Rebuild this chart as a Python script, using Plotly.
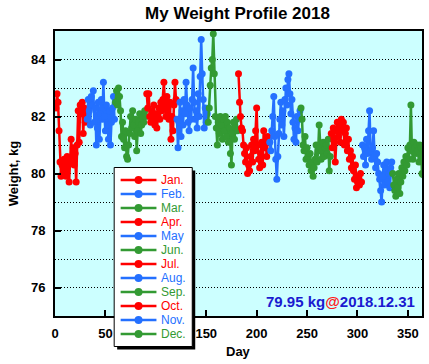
import plotly.graph_objects as go

# ---------------- data ----------------
months = ["Jan.", "Feb.", "Mar.", "Apr.", "May", "Jun.",
          "Jul.", "Aug.", "Sep.", "Oct.", "Nov.", "Dec."]
series_colors = ["#ff0000", "#2470ff", "#339a33"] * 4

jan = [82.3, 82.8, 82.5, 81.5, 80.4, 79.9, 80.3, 80.0, 80.5, 80.2, 79.9, 80.6, 80.3, 79.7, 80.4, 81.2,
       80.6, 80.9, 80.3, 80.7, 79.7, 81.0, 82.2, 81.1, 82.4, 82.1, 82.5, 81.4, 82.3, 81.8, 82.1]
feb = [81.9, 82.6, 82.2, 81.7, 82.7, 82.4, 82.9, 81.8, 82.3, 81.0, 81.6, 82.5, 81.2, 82.1, 82.6, 81.9,
       83.2, 82.0, 81.5, 82.4, 81.7, 81.2, 82.2, 81.0, 81.8, 82.3, 82.7, 81.9]
mar = [82.5, 82.9, 82.4, 83.0, 82.7, 82.2, 81.3, 81.8, 81.2, 80.9, 81.5, 80.6, 80.5, 81.0, 81.4, 82.0,
       81.6, 82.2, 81.7, 81.3, 81.9, 80.8, 81.5, 81.8, 82.1, 81.4, 81.7, 82.0, 81.8, 82.2, 82.0]
apr = [82.8, 82.3, 82.8, 82.0, 81.8, 82.2, 81.9, 82.4, 81.7, 82.1, 81.6, 82.0, 82.3, 81.9, 82.5, 82.2,
       82.6, 83.2, 82.4, 82.0, 82.7, 82.3, 81.9, 82.5, 81.2, 82.0, 81.5, 82.4, 83.2, 82.6]
may = [81.9, 80.9, 81.8, 82.5, 81.3, 82.2, 81.7, 82.6, 82.1, 83.2, 82.4, 81.8, 81.5, 82.3, 81.9, 82.6,
       83.7, 82.5, 81.9, 82.2, 81.6, 82.8, 82.0, 83.4, 84.7, 83.5, 82.6, 81.6, 82.3, 81.8, 82.1]
jun = [81.8, 82.3, 83.1, 83.7, 84.0, 84.9, 83.5, 82.0, 81.6, 81.0, 81.8, 81.4, 82.0, 81.7, 81.2, 81.9,
       81.5, 82.0, 81.3, 81.8, 81.1, 81.6, 80.7, 80.3, 81.4, 81.8, 81.2, 81.6, 81.9, 81.5]
jul = [83.5, 82.5, 82.0, 81.6, 81.5, 81.0, 80.7, 80.4, 80.9, 80.0, 80.3, 80.1, 80.6, 81.0, 80.4, 81.2,
       80.8, 81.5, 82.3, 81.0, 80.5, 80.2, 80.7, 81.1, 80.3, 81.5, 80.9, 81.1, 80.6, 81.3, 81.1]
aug = [81.1, 80.8, 81.5, 82.0, 82.7, 81.3, 80.5, 79.8, 80.6, 81.4, 81.9, 82.5, 81.7, 82.2, 81.3, 82.6,
       83.0, 82.4, 83.3, 83.5, 82.8, 82.1, 82.6, 81.8, 81.2, 81.6, 81.1, 82.0, 81.5, 81.9, 82.2]
sep = [82.3, 81.9, 81.0, 80.8, 81.3, 80.5, 80.9, 80.6, 80.3, 80.7, 80.1, 80.4, 79.9, 80.2, 80.5, 81.0,
       80.4, 80.8, 81.7, 80.9, 80.5, 80.8, 81.1, 80.6, 80.9, 81.0, 80.7, 81.2, 80.1, 80.6]
oct_ = [81.4, 80.9, 81.6, 81.2, 80.4, 81.5, 81.8, 81.3, 81.7, 81.1, 81.9, 81.5, 81.8, 81.0, 81.4, 81.6,
        80.8, 81.2, 80.5, 80.8, 80.2, 80.6, 80.1, 79.8, 80.3, 79.5, 79.7, 79.9, 79.6, 80.0, 79.7]
nov = [81.0, 80.6, 80.9, 80.3, 81.2, 80.7, 81.5, 82.2, 80.8, 80.5, 80.9, 81.5, 80.6, 80.2, 80.7, 80.4,
       80.0, 79.8, 79.4, 79.0, 79.9, 80.3, 79.6, 80.1, 80.4, 79.7, 80.0, 79.5, 80.2, 80.4]
dec = [80.0, 79.6, 79.4, 79.2, 79.8, 79.5, 80.0, 79.3, 79.7, 80.2, 79.9, 80.4, 80.1, 80.6, 80.3, 80.9,
       80.5, 81.0, 82.4, 80.8, 80.5, 81.1, 80.9, 80.7, 81.0, 80.8, 80.4, 81.0, 80.9, 80.0, 79.95]
monthly_weights = [jan, feb, mar, apr, may, jun, jul, aug, sep, oct_, nov, dec]

y_tick_values = [76, 78, 80, 82, 84]
x_tick_values = [0, 50, 100, 150, 200, 250, 300, 350]
last_weight_text = "79.95 kg"
last_date_text = "2018.12.31"

# ---------------- layout geometry ----------------
W, H = 429, 364
L, R, T, B = 55, 5, 31, 48
PW, PH = W - L - R, H - T - B
FONT = "Liberation Sans, Arial, Helvetica, sans-serif"


def px(x):
    return (x - L) / PW


def py(y):
    return 1 - (y - T) / PH


fig = go.Figure()
day = 1
for name, vals, col in zip(months, monthly_weights, series_colors):
    days = list(range(day, day + len(vals)))
    day += len(vals)
    fig.add_trace(go.Scatter(
        x=days, y=vals, mode="lines+markers", name=name,
        line=dict(color=col, width=2.5),
        marker=dict(color=col, size=7),
        showlegend=False,
    ))

shapes = []
annotations = []

# manual legend (shadow + box + entries)
shapes.append(dict(type="rect", xref="paper", yref="paper", layer="above",
                   x0=px(117.5), x1=px(196), y0=py(170.5), y1=py(349.5),
                   fillcolor="black", line=dict(width=0)))
shapes.append(dict(type="rect", xref="paper", yref="paper", layer="above",
                   x0=px(114.5), x1=px(193), y0=py(167.5), y1=py(346.5),
                   fillcolor="white", line=dict(color="black", width=1)))
for i, (name, col) in enumerate(zip(months, series_colors)):
    yy = 180 + 14 * i
    shapes.append(dict(type="line", xref="paper", yref="paper", layer="above",
                       x0=px(121), x1=px(157), y0=py(yy), y1=py(yy),
                       line=dict(color=col, width=2.5)))
    shapes.append(dict(type="circle", xref="paper", yref="paper", layer="above",
                       x0=px(135), x1=px(143), y0=py(yy - 4), y1=py(yy + 4),
                       fillcolor=col, line=dict(color=col, width=0)))
    annotations.append(dict(xref="paper", yref="paper", x=px(159.5), y=py(yy),
                            xanchor="left", yanchor="middle", showarrow=False,
                            text=name, font=dict(family=FONT, size=12, color=col)))

# axis titles
annotations.append(dict(xref="paper", yref="paper", x=px(13), y=py(173),
                        xanchor="center", yanchor="middle", showarrow=False,
                        text="Weight, kg", textangle=-90,
                        font=dict(family=FONT, size=13, color="black", weight="bold")))
annotations.append(dict(xref="paper", yref="paper", x=px(240), y=py(351),
                        xanchor="center", yanchor="middle", showarrow=False,
                        text="Day",
                        font=dict(family=FONT, size=13, color="black", weight="bold")))
# latest value label
annotations.append(dict(xref="paper", yref="paper", x=px(419), y=py(301),
                        xanchor="right", yanchor="middle", showarrow=False,
                        text=last_weight_text + "<span style='color:#ff1a1a'>@</span>" + last_date_text,
                        font=dict(family=FONT, size=15, color="#1a1ad0", weight="bold")))

fig.update_layout(
    width=W, height=H,
    margin=dict(l=L, r=R, t=T, b=B, pad=0),
    paper_bgcolor="white",
    plot_bgcolor="#ccffff",
    showlegend=False,
    title=dict(text="My Weight Profile 2018", x=237.5 / W, xanchor="center",
               y=1 - 13 / H, yanchor="middle",
               font=dict(family=FONT, size=17, color="black", weight="bold")),
    shapes=shapes,
    annotations=annotations,
)
fig.update_xaxes(
    range=[0, 364], tickmode="array", tickvals=x_tick_values,
    ticks="inside", ticklen=6, tickwidth=1.5, tickcolor="black",
    showline=True, linecolor="black", linewidth=2, mirror=True,
    showgrid=False, zeroline=False,
    tickfont=dict(family=FONT, size=13, color="black", weight="bold"),
    ticklabelstandoff=4,
)
fig.update_yaxes(
    range=[75, 85], tickmode="array", tickvals=y_tick_values,
    ticks="inside", ticklen=6, tickwidth=1.5, tickcolor="black",
    showline=True, linecolor="black", linewidth=2, mirror=True,
    showgrid=True, gridcolor="black", gridwidth=1, griddash="1px,2px",
    minor=dict(dtick=1, tick0=75, showgrid=True, gridcolor="black", gridwidth=1,
               griddash="1px,2px", ticks=""),
    zeroline=False,
    tickfont=dict(family=FONT, size=13, color="black", weight="bold"),
    ticklabelstandoff=5,
)

fig.write_html("out.html",
               config={"displayModeBar": False},
               post_script="document.body.style.margin='0';document.body.style.overflow='hidden';")
